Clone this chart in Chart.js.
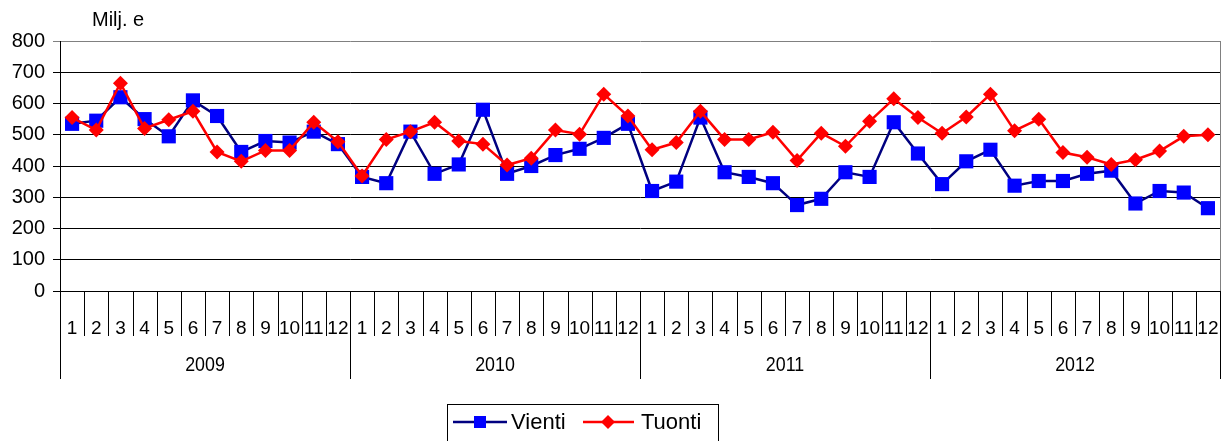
<!DOCTYPE html>
<html>
<head>
<meta charset="utf-8">
<script src="https://cdn.jsdelivr.net/npm/chart.js@4.4.1/dist/chart.umd.min.js"></script>
<style>
  body { margin: 0; background: #fff; }
  canvas { display: block; }
</style>
</head>
<body>
<canvas id="tradeChart" width="1225" height="441"></canvas>
<script>
// Kuukaudet ja vuodet
const months = ["1", "2", "3", "4", "5", "6", "7", "8", "9", "10", "11", "12"];
const years = ["2009", "2010", "2011", "2012"];
const yTicks = [0, 100, 200, 300, 400, 500, 600, 700, 800];

// Milj. e
const vienti = [
  535, 545, 620, 550, 495, 610, 560, 445, 480, 475, 510, 470,
  365, 345, 510, 375, 405, 580, 375, 400, 435, 455, 490, 535,
  320, 350, 555, 380, 365, 345, 275, 295, 380, 365, 540, 440,
  342, 415, 452, 337, 352, 352, 375, 385, 280, 320, 315, 265,
];
const tuonti = [
  555, 515, 665, 520, 548, 575, 445, 415, 450, 450, 540, 478,
  368, 485, 510, 540, 480, 470, 403, 425, 515, 502, 630, 560,
  452, 475, 575, 485, 485, 508, 418, 505, 463, 543, 615, 555,
  505, 557, 630, 513, 550, 443, 428, 405, 420, 448, 495, 500,
];

const labels = [];
years.forEach(function () {
  months.forEach(function (m) { labels.push(m); });
});

// Vuosirivi, väliviivat, yksikkö ja selite
const decorations = {
  id: "decorations",
  afterDraw(chart) {
    const ctx = chart.ctx;
    const x = chart.scales.x;
    const area = chart.chartArea;
    const step = x.getPixelForValue(1) - x.getPixelForValue(0);
    ctx.save();

    // oikea reuna
    ctx.strokeStyle = "#808080";
    ctx.lineWidth = 1;
    ctx.beginPath();
    ctx.moveTo(Math.round(area.right) + 0.5, area.top);
    ctx.lineTo(Math.round(area.right) + 0.5, area.bottom);
    ctx.stroke();

    // kuukausiviivat
    ctx.strokeStyle = "#000";
    for (let i = 0; i <= labels.length; i++) {
      const px = Math.round(x.getPixelForValue(i) - step / 2) + 0.5;
      const len = i % 12 === 0 ? 88 : 45;
      ctx.beginPath();
      ctx.moveTo(px, area.bottom);
      ctx.lineTo(px, area.bottom + len);
      ctx.stroke();
    }

    // vuodet
    ctx.fillStyle = "#000";
    ctx.textAlign = "center";
    ctx.textBaseline = "middle";
    ctx.font = "21px 'Liberation Sans Narrow', Arial, sans-serif";
    years.forEach(function (yr, k) {
      const cx = (x.getPixelForValue(k * 12) + x.getPixelForValue(k * 12 + 11)) / 2;
      ctx.save();
      ctx.translate(cx, area.bottom + 74);
      ctx.scale(0.85, 1);
      ctx.fillText(yr, 0, 0);
      ctx.restore();
    });

    // yksikkö
    ctx.textAlign = "left";
    ctx.font = "20px Arial, 'Liberation Sans', sans-serif";
    ctx.fillText("Milj. e", 92, 20);

    // selite
    ctx.strokeStyle = "#000";
    ctx.lineWidth = 1;
    ctx.strokeRect(447.5, 404.5, 271, 45);
    const ly = 422;
    ctx.lineWidth = 2.5;
    ctx.strokeStyle = "#000080";
    ctx.beginPath();
    ctx.moveTo(453, ly);
    ctx.lineTo(507, ly);
    ctx.stroke();
    ctx.fillStyle = "#0000ff";
    ctx.fillRect(474, ly - 6, 12, 12);
    ctx.strokeStyle = "#ff0000";
    ctx.beginPath();
    ctx.moveTo(583, ly);
    ctx.lineTo(634, ly);
    ctx.stroke();
    ctx.fillStyle = "#ff0000";
    ctx.beginPath();
    ctx.moveTo(608, ly - 7);
    ctx.lineTo(615, ly);
    ctx.lineTo(608, ly + 7);
    ctx.lineTo(601, ly);
    ctx.closePath();
    ctx.fill();
    ctx.fillStyle = "#000";
    ctx.font = "22px Arial, 'Liberation Sans', sans-serif";
    ctx.fillText("Vienti", 511, ly + 1);
    ctx.fillText("Tuonti", 641, ly + 1);

    ctx.restore();
  },
};

const ctx = document.getElementById("tradeChart").getContext("2d");
new Chart(ctx, {
  type: "line",
  data: {
    labels: labels,
    datasets: [
      {
        label: "Vienti",
        data: vienti,
        order: 1,
        borderColor: "#000080",
        borderWidth: 2.5,
        pointStyle: "rect",
        pointRadius: 10,
        pointBackgroundColor: "#0000ff",
        pointBorderColor: "#0000ff",
        pointBorderWidth: 0,
        tension: 0,
      },
      {
        label: "Tuonti",
        data: tuonti,
        order: 0,
        borderColor: "#ff0000",
        borderWidth: 2.5,
        pointStyle: "rectRot",
        pointRadius: 7.5,
        pointBackgroundColor: "#ff0000",
        pointBorderColor: "#ff0000",
        pointBorderWidth: 0,
        tension: 0,
      },
    ],
  },
  options: {
    responsive: false,
    animation: false,
    events: [],
    layout: {
      autoPadding: false,
      padding: { top: 41, right: 5, left: 0, bottom: 0 },
    },
    plugins: {
      legend: { display: false },
      tooltip: { enabled: false },
    },
    scales: {
      x: {
        offset: true,
        afterFit: function (scale) {
          scale.height = 150;
          scale.paddingLeft = 0;
          scale.paddingRight = 0;
        },
        grid: { display: false, drawTicks: false },
        border: { display: true, color: "#000", width: 1 },
        ticks: {
          autoSkip: false,
          maxRotation: 0,
          minRotation: 0,
          padding: 26,
          color: "#000",
          font: { family: "'Liberation Sans Narrow', Arial, sans-serif", size: 19 },
        },
      },
      y: {
        min: 0,
        max: 800,
        afterFit: function (scale) {
          scale.width = 60;
          scale.paddingTop = 0;
          scale.paddingBottom = 0;
        },
        afterBuildTicks: function (scale) {
          scale.ticks = yTicks.map(function (v) { return { value: v }; });
        },
        grid: {
          color: function (c) { return c.tick && c.tick.value === 800 ? "#808080" : "#000"; },
          lineWidth: 1,
          drawTicks: true,
          tickLength: 7,
        },
        border: { display: true, color: "#000", width: 1 },
        ticks: {
          padding: 8,
          color: "#000",
          font: { family: "Arial, 'Liberation Sans', sans-serif", size: 20 },
        },
      },
    },
  },
  plugins: [decorations],
});
</script>
</body>
</html>
